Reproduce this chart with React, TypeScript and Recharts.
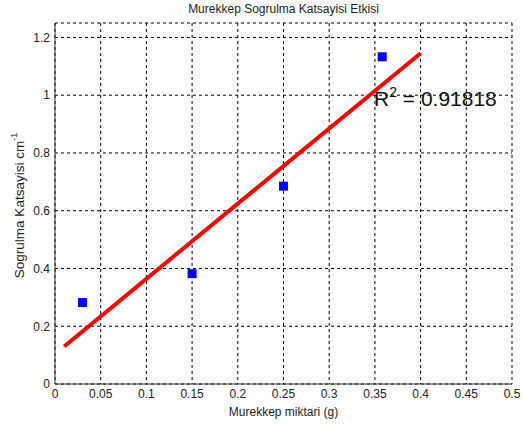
import { CartesianGrid, ReferenceDot, Scatter, ScatterChart, XAxis, YAxis } from "recharts";

const inkAmounts = [0.03, 0.15, 0.25, 0.358];
const absorption = [0.282, 0.382, 0.685, 1.133];
const fitX = [0.01, 0.4];
const fitY = [0.13, 1.145];
const xTicks = [0, 0.05, 0.1, 0.15, 0.2, 0.25, 0.3, 0.35, 0.4, 0.45, 0.5];
const yTicks = [0, 0.2, 0.4, 0.6, 0.8, 1, 1.2];
const rSquared = "0.91818";

const points = inkAmounts.map((x, i) => ({ x, y: absorption[i] }));
const fitLine = fitX.map((x, i) => ({ x, y: fitY[i] }));

if (typeof document !== "undefined") document.body.style.margin = "0";

const font = "'Liberation Sans', Arial, sans-serif";
const tickStyle = { fontSize: 12, fill: "#222", fontFamily: font };

const Square = (props: any) => {
  const { cx, cy } = props;
  return <rect x={cx - 4.5} y={cy - 4.5} width={9} height={9} fill="#0000ff" />;
};

const YLabel = (props: any) => {
  const { viewBox } = props;
  const cx = 19;
  const cy = viewBox.y + viewBox.height / 2 + 2;
  return (
    <text
      x={cx}
      y={cy}
      transform={`rotate(-90 ${cx} ${cy})`}
      textAnchor="middle"
      dominantBaseline="central"
      fontSize={13.5}
      fill="#222"
      fontFamily={font}
    >
      Sogrulma Katsayisi cm
      <tspan dy={-5} fontSize={9}>-1</tspan>
    </text>
  );
};

const XLabel = (props: any) => {
  const { viewBox } = props;
  return (
    <text x={viewBox.x + viewBox.width / 2} y={416} textAnchor="middle" fontSize={12} fill="#222" fontFamily={font}>
      Murekkep miktari (g)
    </text>
  );
};

const RLabel = (props: any) => {
  const { viewBox } = props;
  return (
    <text x={viewBox.x} y={viewBox.y} fontSize={21} fill="#111" fontFamily={font}>
      R<tspan dy={-9} fontSize={14}>2</tspan>
      <tspan dy={9}>{` = ${rSquared}`}</tspan>
    </text>
  );
};

export default function App() {
  return (
    <div style={{ width: 523, height: 427, background: "#fff", position: "relative" }}>
      <ScatterChart width={523} height={427} margin={{ top: 23, right: 11, bottom: 0, left: 0 }}>
        <CartesianGrid stroke="#000" strokeDasharray="3 3" strokeWidth={1} />
        <XAxis
          type="number"
          dataKey="x"
          domain={[0, 0.5]}
          ticks={xTicks}
          interval={0}
          height={43}
          tickLine={false}
          tickSize={3}
          tickMargin={2}
          tick={tickStyle}
          axisLine={{ stroke: "#333" }}
          label={{ content: XLabel }}
        />
        <YAxis
          type="number"
          dataKey="y"
          domain={[0, 1.25]}
          ticks={yTicks}
          interval={0}
          width={55}
          tickLine={false}
          tickSize={3}
          tickMargin={2}
          tick={tickStyle}
          axisLine={{ stroke: "#333" }}
          label={{ content: YLabel }}
        />
        <Scatter
          data={fitLine}
          line={{ stroke: "#ff0000", strokeWidth: 4 }}
          shape={() => <g />}
          isAnimationActive={false}
        />
        <Scatter data={points} shape={Square} isAnimationActive={false} />
        <ReferenceDot x={0.349} y={0.962} r={0} stroke="none" label={{ content: RLabel }} />
      </ScatterChart>
      <div
        style={{
          position: "absolute",
          top: 2,
          left: 55,
          width: 457,
          zIndex: 2,
          textAlign: "center",
          fontSize: 12,
          lineHeight: "14px",
          color: "#222",
          fontFamily: font,
        }}
      >
        Murekkep Sogrulma Katsayisi Etkisi
      </div>
    </div>
  );
}
